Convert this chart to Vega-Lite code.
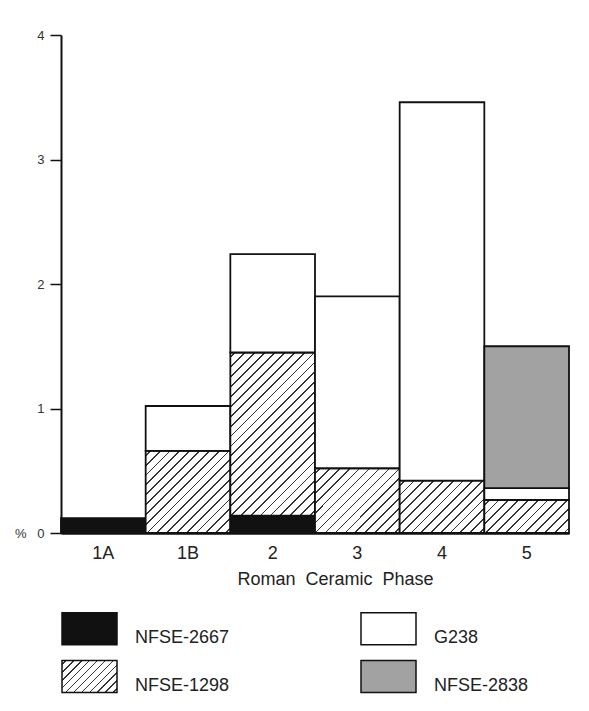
{
  "$schema": "https://vega.github.io/schema/vega-lite/v6.json",
  "autosize": "none",
  "width": 508,
  "height": 498,
  "padding": {"left": 61, "top": 35, "right": 20, "bottom": 178},
  "background": "#ffffff",
  "config": {
    "font": "Liberation Sans",
    "view": {"stroke": null}
  },
  "data": {
    "values": [
      {"phase": "1A", "series": "NFSE-2667", "layer": 1, "pct": 0.12},
      {"phase": "1B", "series": "NFSE-1298", "layer": 2, "pct": 0.66},
      {"phase": "1B", "series": "G238", "layer": 3, "pct": 0.36},
      {"phase": "2", "series": "NFSE-2667", "layer": 1, "pct": 0.14},
      {"phase": "2", "series": "NFSE-1298", "layer": 2, "pct": 1.31},
      {"phase": "2", "series": "G238", "layer": 3, "pct": 0.79},
      {"phase": "3", "series": "NFSE-1298", "layer": 2, "pct": 0.52},
      {"phase": "3", "series": "G238", "layer": 3, "pct": 1.38},
      {"phase": "4", "series": "NFSE-1298", "layer": 2, "pct": 0.42},
      {"phase": "4", "series": "G238", "layer": 3, "pct": 3.04},
      {"phase": "5", "series": "NFSE-1298", "layer": 2, "pct": 0.265},
      {"phase": "5", "series": "G238", "layer": 3, "pct": 0.095},
      {"phase": "5", "series": "NFSE-2838", "layer": 4, "pct": 1.14}
    ]
  },
  "mark": {"type": "bar", "stroke": "#111111", "strokeWidth": 1.8, "opacity": 1},
  "encoding": {
    "x": {
      "field": "phase",
      "type": "nominal",
      "sort": ["1A", "1B", "2", "3", "4", "5"],
      "scale": {"paddingInner": 0, "paddingOuter": 0},
      "axis": {
        "labelAngle": 0,
        "ticks": false,
        "domain": true,
        "domainColor": "#111111",
        "domainWidth": 2.5,
        "labelFontSize": 18,
        "labelColor": "#222222",
        "labelPadding": 11,
        "title": "Roman\u00a0 Ceramic\u00a0 Phase",
        "titleFontSize": 18,
        "titleFontWeight": "normal",
        "titleColor": "#222222",
        "titleX": 274,
        "titleY": 37
      }
    },
    "y": {
      "field": "pct",
      "type": "quantitative",
      "stack": "zero",
      "scale": {"domain": [0, 4], "nice": false},
      "axis": {
        "values": [0, 1, 2, 3, 4],
        "title": null,
        "grid": false,
        "domainColor": "#111111",
        "domainWidth": 2,
        "tickColor": "#111111",
        "tickWidth": 1.5,
        "tickSize": 11,
        "labelFontSize": 13,
        "labelColor": "#333333",
        "labelPadding": 6,
        "labelExpr": "datum.value === 0 ? '%\u00a0\u00a0\u00a00' : datum.label"
      }
    },
    "order": {"field": "layer", "type": "quantitative", "sort": "ascending"},
    "color": {
      "condition": [
        {
          "test": "datum.series === 'NFSE-1298' && datum.phase === '1B'",
          "value": {
            "gradient": "linear", "x1": 0, "y1": 0, "x2": 1.0148, "y2": 0.985,
            "stops": [
              {"offset": 0, "color": "#ffffff"},
              {"offset": 0.0240, "color": "#ffffff"}, {"offset": 0.0240, "color": "#333333"}, {"offset": 0.0348, "color": "#333333"}, {"offset": 0.0348, "color": "#ffffff"},
              {"offset": 0.0828, "color": "#ffffff"}, {"offset": 0.0828, "color": "#333333"}, {"offset": 0.0936, "color": "#333333"}, {"offset": 0.0936, "color": "#ffffff"},
              {"offset": 0.1417, "color": "#ffffff"}, {"offset": 0.1417, "color": "#333333"}, {"offset": 0.1525, "color": "#333333"}, {"offset": 0.1525, "color": "#ffffff"},
              {"offset": 0.2005, "color": "#ffffff"}, {"offset": 0.2005, "color": "#333333"}, {"offset": 0.2113, "color": "#333333"}, {"offset": 0.2113, "color": "#ffffff"},
              {"offset": 0.2593, "color": "#ffffff"}, {"offset": 0.2593, "color": "#333333"}, {"offset": 0.2701, "color": "#333333"}, {"offset": 0.2701, "color": "#ffffff"},
              {"offset": 0.3181, "color": "#ffffff"}, {"offset": 0.3181, "color": "#333333"}, {"offset": 0.3289, "color": "#333333"}, {"offset": 0.3289, "color": "#ffffff"},
              {"offset": 0.3770, "color": "#ffffff"}, {"offset": 0.3770, "color": "#333333"}, {"offset": 0.3878, "color": "#333333"}, {"offset": 0.3878, "color": "#ffffff"},
              {"offset": 0.4358, "color": "#ffffff"}, {"offset": 0.4358, "color": "#333333"}, {"offset": 0.4466, "color": "#333333"}, {"offset": 0.4466, "color": "#ffffff"},
              {"offset": 0.4946, "color": "#ffffff"}, {"offset": 0.4946, "color": "#333333"}, {"offset": 0.5054, "color": "#333333"}, {"offset": 0.5054, "color": "#ffffff"},
              {"offset": 0.5534, "color": "#ffffff"}, {"offset": 0.5534, "color": "#333333"}, {"offset": 0.5642, "color": "#333333"}, {"offset": 0.5642, "color": "#ffffff"},
              {"offset": 0.6122, "color": "#ffffff"}, {"offset": 0.6122, "color": "#333333"}, {"offset": 0.6230, "color": "#333333"}, {"offset": 0.6230, "color": "#ffffff"},
              {"offset": 0.6711, "color": "#ffffff"}, {"offset": 0.6711, "color": "#333333"}, {"offset": 0.6819, "color": "#333333"}, {"offset": 0.6819, "color": "#ffffff"},
              {"offset": 0.7299, "color": "#ffffff"}, {"offset": 0.7299, "color": "#333333"}, {"offset": 0.7407, "color": "#333333"}, {"offset": 0.7407, "color": "#ffffff"},
              {"offset": 0.7887, "color": "#ffffff"}, {"offset": 0.7887, "color": "#333333"}, {"offset": 0.7995, "color": "#333333"}, {"offset": 0.7995, "color": "#ffffff"},
              {"offset": 0.8475, "color": "#ffffff"}, {"offset": 0.8475, "color": "#333333"}, {"offset": 0.8583, "color": "#333333"}, {"offset": 0.8583, "color": "#ffffff"},
              {"offset": 0.9064, "color": "#ffffff"}, {"offset": 0.9064, "color": "#333333"}, {"offset": 0.9172, "color": "#333333"}, {"offset": 0.9172, "color": "#ffffff"},
              {"offset": 0.9652, "color": "#ffffff"}, {"offset": 0.9652, "color": "#333333"}, {"offset": 0.9760, "color": "#333333"}, {"offset": 0.9760, "color": "#ffffff"},
              {"offset": 1, "color": "#ffffff"}
            ]
          }
        },
        {
          "test": "datum.series === 'NFSE-1298' && datum.phase === '2'",
          "value": {
            "gradient": "linear", "x1": 0, "y1": 0, "x2": 0.6214, "y2": 1.1966,
            "stops": [
              {"offset": 0, "color": "#ffffff"},
              {"offset": 0.0164, "color": "#ffffff"}, {"offset": 0.0164, "color": "#333333"}, {"offset": 0.0236, "color": "#333333"}, {"offset": 0.0236, "color": "#ffffff"},
              {"offset": 0.0564, "color": "#ffffff"}, {"offset": 0.0564, "color": "#333333"}, {"offset": 0.0636, "color": "#333333"}, {"offset": 0.0636, "color": "#ffffff"},
              {"offset": 0.0964, "color": "#ffffff"}, {"offset": 0.0964, "color": "#333333"}, {"offset": 0.1036, "color": "#333333"}, {"offset": 0.1036, "color": "#ffffff"},
              {"offset": 0.1364, "color": "#ffffff"}, {"offset": 0.1364, "color": "#333333"}, {"offset": 0.1436, "color": "#333333"}, {"offset": 0.1436, "color": "#ffffff"},
              {"offset": 0.1764, "color": "#ffffff"}, {"offset": 0.1764, "color": "#333333"}, {"offset": 0.1836, "color": "#333333"}, {"offset": 0.1836, "color": "#ffffff"},
              {"offset": 0.2164, "color": "#ffffff"}, {"offset": 0.2164, "color": "#333333"}, {"offset": 0.2236, "color": "#333333"}, {"offset": 0.2236, "color": "#ffffff"},
              {"offset": 0.2564, "color": "#ffffff"}, {"offset": 0.2564, "color": "#333333"}, {"offset": 0.2636, "color": "#333333"}, {"offset": 0.2636, "color": "#ffffff"},
              {"offset": 0.2964, "color": "#ffffff"}, {"offset": 0.2964, "color": "#333333"}, {"offset": 0.3036, "color": "#333333"}, {"offset": 0.3036, "color": "#ffffff"},
              {"offset": 0.3364, "color": "#ffffff"}, {"offset": 0.3364, "color": "#333333"}, {"offset": 0.3436, "color": "#333333"}, {"offset": 0.3436, "color": "#ffffff"},
              {"offset": 0.3764, "color": "#ffffff"}, {"offset": 0.3764, "color": "#333333"}, {"offset": 0.3836, "color": "#333333"}, {"offset": 0.3836, "color": "#ffffff"},
              {"offset": 0.4164, "color": "#ffffff"}, {"offset": 0.4164, "color": "#333333"}, {"offset": 0.4236, "color": "#333333"}, {"offset": 0.4236, "color": "#ffffff"},
              {"offset": 0.4564, "color": "#ffffff"}, {"offset": 0.4564, "color": "#333333"}, {"offset": 0.4636, "color": "#333333"}, {"offset": 0.4636, "color": "#ffffff"},
              {"offset": 0.4964, "color": "#ffffff"}, {"offset": 0.4964, "color": "#333333"}, {"offset": 0.5036, "color": "#333333"}, {"offset": 0.5036, "color": "#ffffff"},
              {"offset": 0.5364, "color": "#ffffff"}, {"offset": 0.5364, "color": "#333333"}, {"offset": 0.5436, "color": "#333333"}, {"offset": 0.5436, "color": "#ffffff"},
              {"offset": 0.5764, "color": "#ffffff"}, {"offset": 0.5764, "color": "#333333"}, {"offset": 0.5836, "color": "#333333"}, {"offset": 0.5836, "color": "#ffffff"},
              {"offset": 0.6164, "color": "#ffffff"}, {"offset": 0.6164, "color": "#333333"}, {"offset": 0.6236, "color": "#333333"}, {"offset": 0.6236, "color": "#ffffff"},
              {"offset": 0.6564, "color": "#ffffff"}, {"offset": 0.6564, "color": "#333333"}, {"offset": 0.6636, "color": "#333333"}, {"offset": 0.6636, "color": "#ffffff"},
              {"offset": 0.6964, "color": "#ffffff"}, {"offset": 0.6964, "color": "#333333"}, {"offset": 0.7036, "color": "#333333"}, {"offset": 0.7036, "color": "#ffffff"},
              {"offset": 0.7364, "color": "#ffffff"}, {"offset": 0.7364, "color": "#333333"}, {"offset": 0.7436, "color": "#333333"}, {"offset": 0.7436, "color": "#ffffff"},
              {"offset": 0.7764, "color": "#ffffff"}, {"offset": 0.7764, "color": "#333333"}, {"offset": 0.7836, "color": "#333333"}, {"offset": 0.7836, "color": "#ffffff"},
              {"offset": 0.8164, "color": "#ffffff"}, {"offset": 0.8164, "color": "#333333"}, {"offset": 0.8236, "color": "#333333"}, {"offset": 0.8236, "color": "#ffffff"},
              {"offset": 0.8564, "color": "#ffffff"}, {"offset": 0.8564, "color": "#333333"}, {"offset": 0.8636, "color": "#333333"}, {"offset": 0.8636, "color": "#ffffff"},
              {"offset": 0.8964, "color": "#ffffff"}, {"offset": 0.8964, "color": "#333333"}, {"offset": 0.9036, "color": "#333333"}, {"offset": 0.9036, "color": "#ffffff"},
              {"offset": 0.9364, "color": "#ffffff"}, {"offset": 0.9364, "color": "#333333"}, {"offset": 0.9436, "color": "#333333"}, {"offset": 0.9436, "color": "#ffffff"},
              {"offset": 0.9764, "color": "#ffffff"}, {"offset": 0.9764, "color": "#333333"}, {"offset": 0.9836, "color": "#333333"}, {"offset": 0.9836, "color": "#ffffff"},
              {"offset": 1, "color": "#ffffff"}
            ]
          }
        },
        {
          "test": "datum.series === 'NFSE-1298' && datum.phase === '3'",
          "value": {
            "gradient": "linear", "x1": 0, "y1": 0, "x2": 1.114, "y2": 0.851,
            "stops": [
              {"offset": 0, "color": "#ffffff"},
              {"offset": 0.0273, "color": "#ffffff"}, {"offset": 0.0273, "color": "#333333"}, {"offset": 0.0393, "color": "#333333"}, {"offset": 0.0393, "color": "#ffffff"},
              {"offset": 0.0940, "color": "#ffffff"}, {"offset": 0.0940, "color": "#333333"}, {"offset": 0.1060, "color": "#333333"}, {"offset": 0.1060, "color": "#ffffff"},
              {"offset": 0.1607, "color": "#ffffff"}, {"offset": 0.1607, "color": "#333333"}, {"offset": 0.1727, "color": "#333333"}, {"offset": 0.1727, "color": "#ffffff"},
              {"offset": 0.2273, "color": "#ffffff"}, {"offset": 0.2273, "color": "#333333"}, {"offset": 0.2393, "color": "#333333"}, {"offset": 0.2393, "color": "#ffffff"},
              {"offset": 0.2940, "color": "#ffffff"}, {"offset": 0.2940, "color": "#333333"}, {"offset": 0.3060, "color": "#333333"}, {"offset": 0.3060, "color": "#ffffff"},
              {"offset": 0.3607, "color": "#ffffff"}, {"offset": 0.3607, "color": "#333333"}, {"offset": 0.3727, "color": "#333333"}, {"offset": 0.3727, "color": "#ffffff"},
              {"offset": 0.4273, "color": "#ffffff"}, {"offset": 0.4273, "color": "#333333"}, {"offset": 0.4393, "color": "#333333"}, {"offset": 0.4393, "color": "#ffffff"},
              {"offset": 0.4940, "color": "#ffffff"}, {"offset": 0.4940, "color": "#333333"}, {"offset": 0.5060, "color": "#333333"}, {"offset": 0.5060, "color": "#ffffff"},
              {"offset": 0.5607, "color": "#ffffff"}, {"offset": 0.5607, "color": "#333333"}, {"offset": 0.5727, "color": "#333333"}, {"offset": 0.5727, "color": "#ffffff"},
              {"offset": 0.6273, "color": "#ffffff"}, {"offset": 0.6273, "color": "#333333"}, {"offset": 0.6393, "color": "#333333"}, {"offset": 0.6393, "color": "#ffffff"},
              {"offset": 0.6940, "color": "#ffffff"}, {"offset": 0.6940, "color": "#333333"}, {"offset": 0.7060, "color": "#333333"}, {"offset": 0.7060, "color": "#ffffff"},
              {"offset": 0.7607, "color": "#ffffff"}, {"offset": 0.7607, "color": "#333333"}, {"offset": 0.7727, "color": "#333333"}, {"offset": 0.7727, "color": "#ffffff"},
              {"offset": 0.8273, "color": "#ffffff"}, {"offset": 0.8273, "color": "#333333"}, {"offset": 0.8393, "color": "#333333"}, {"offset": 0.8393, "color": "#ffffff"},
              {"offset": 0.8940, "color": "#ffffff"}, {"offset": 0.8940, "color": "#333333"}, {"offset": 0.9060, "color": "#333333"}, {"offset": 0.9060, "color": "#ffffff"},
              {"offset": 0.9607, "color": "#ffffff"}, {"offset": 0.9607, "color": "#333333"}, {"offset": 0.9727, "color": "#333333"}, {"offset": 0.9727, "color": "#ffffff"},
              {"offset": 1, "color": "#ffffff"}
            ]
          }
        },
        {
          "test": "datum.series === 'NFSE-1298' && datum.phase === '4'",
          "value": {
            "gradient": "linear", "x1": 0, "y1": 0, "x2": 1.171, "y2": 0.723,
            "stops": [
              {"offset": 0, "color": "#ffffff"},
              {"offset": 0.0291, "color": "#ffffff"}, {"offset": 0.0291, "color": "#333333"}, {"offset": 0.0423, "color": "#333333"}, {"offset": 0.0423, "color": "#ffffff"},
              {"offset": 0.1005, "color": "#ffffff"}, {"offset": 0.1005, "color": "#333333"}, {"offset": 0.1137, "color": "#333333"}, {"offset": 0.1137, "color": "#ffffff"},
              {"offset": 0.1720, "color": "#ffffff"}, {"offset": 0.1720, "color": "#333333"}, {"offset": 0.1852, "color": "#333333"}, {"offset": 0.1852, "color": "#ffffff"},
              {"offset": 0.2434, "color": "#ffffff"}, {"offset": 0.2434, "color": "#333333"}, {"offset": 0.2566, "color": "#333333"}, {"offset": 0.2566, "color": "#ffffff"},
              {"offset": 0.3148, "color": "#ffffff"}, {"offset": 0.3148, "color": "#333333"}, {"offset": 0.3280, "color": "#333333"}, {"offset": 0.3280, "color": "#ffffff"},
              {"offset": 0.3863, "color": "#ffffff"}, {"offset": 0.3863, "color": "#333333"}, {"offset": 0.3995, "color": "#333333"}, {"offset": 0.3995, "color": "#ffffff"},
              {"offset": 0.4577, "color": "#ffffff"}, {"offset": 0.4577, "color": "#333333"}, {"offset": 0.4709, "color": "#333333"}, {"offset": 0.4709, "color": "#ffffff"},
              {"offset": 0.5291, "color": "#ffffff"}, {"offset": 0.5291, "color": "#333333"}, {"offset": 0.5423, "color": "#333333"}, {"offset": 0.5423, "color": "#ffffff"},
              {"offset": 0.6005, "color": "#ffffff"}, {"offset": 0.6005, "color": "#333333"}, {"offset": 0.6137, "color": "#333333"}, {"offset": 0.6137, "color": "#ffffff"},
              {"offset": 0.6720, "color": "#ffffff"}, {"offset": 0.6720, "color": "#333333"}, {"offset": 0.6852, "color": "#333333"}, {"offset": 0.6852, "color": "#ffffff"},
              {"offset": 0.7434, "color": "#ffffff"}, {"offset": 0.7434, "color": "#333333"}, {"offset": 0.7566, "color": "#333333"}, {"offset": 0.7566, "color": "#ffffff"},
              {"offset": 0.8148, "color": "#ffffff"}, {"offset": 0.8148, "color": "#333333"}, {"offset": 0.8280, "color": "#333333"}, {"offset": 0.8280, "color": "#ffffff"},
              {"offset": 0.8863, "color": "#ffffff"}, {"offset": 0.8863, "color": "#333333"}, {"offset": 0.8995, "color": "#333333"}, {"offset": 0.8995, "color": "#ffffff"},
              {"offset": 0.9577, "color": "#ffffff"}, {"offset": 0.9577, "color": "#333333"}, {"offset": 0.9709, "color": "#333333"}, {"offset": 0.9709, "color": "#ffffff"},
              {"offset": 1, "color": "#ffffff"}
            ]
          }
        },
        {
          "test": "datum.series === 'NFSE-1298' && datum.phase === '5'",
          "value": {
            "gradient": "linear", "x1": 0, "y1": 0, "x2": 1.2065, "y2": 0.470,
            "stops": [
              {"offset": 0, "color": "#ffffff"},
              {"offset": 0.0341, "color": "#ffffff"}, {"offset": 0.0341, "color": "#333333"}, {"offset": 0.0493, "color": "#333333"}, {"offset": 0.0493, "color": "#ffffff"},
              {"offset": 0.1174, "color": "#ffffff"}, {"offset": 0.1174, "color": "#333333"}, {"offset": 0.1326, "color": "#333333"}, {"offset": 0.1326, "color": "#ffffff"},
              {"offset": 0.2007, "color": "#ffffff"}, {"offset": 0.2007, "color": "#333333"}, {"offset": 0.2159, "color": "#333333"}, {"offset": 0.2159, "color": "#ffffff"},
              {"offset": 0.2841, "color": "#ffffff"}, {"offset": 0.2841, "color": "#333333"}, {"offset": 0.2993, "color": "#333333"}, {"offset": 0.2993, "color": "#ffffff"},
              {"offset": 0.3674, "color": "#ffffff"}, {"offset": 0.3674, "color": "#333333"}, {"offset": 0.3826, "color": "#333333"}, {"offset": 0.3826, "color": "#ffffff"},
              {"offset": 0.4507, "color": "#ffffff"}, {"offset": 0.4507, "color": "#333333"}, {"offset": 0.4659, "color": "#333333"}, {"offset": 0.4659, "color": "#ffffff"},
              {"offset": 0.5341, "color": "#ffffff"}, {"offset": 0.5341, "color": "#333333"}, {"offset": 0.5493, "color": "#333333"}, {"offset": 0.5493, "color": "#ffffff"},
              {"offset": 0.6174, "color": "#ffffff"}, {"offset": 0.6174, "color": "#333333"}, {"offset": 0.6326, "color": "#333333"}, {"offset": 0.6326, "color": "#ffffff"},
              {"offset": 0.7007, "color": "#ffffff"}, {"offset": 0.7007, "color": "#333333"}, {"offset": 0.7159, "color": "#333333"}, {"offset": 0.7159, "color": "#ffffff"},
              {"offset": 0.7841, "color": "#ffffff"}, {"offset": 0.7841, "color": "#333333"}, {"offset": 0.7993, "color": "#333333"}, {"offset": 0.7993, "color": "#ffffff"},
              {"offset": 0.8674, "color": "#ffffff"}, {"offset": 0.8674, "color": "#333333"}, {"offset": 0.8826, "color": "#333333"}, {"offset": 0.8826, "color": "#ffffff"},
              {"offset": 0.9507, "color": "#ffffff"}, {"offset": 0.9507, "color": "#333333"}, {"offset": 0.9659, "color": "#333333"}, {"offset": 0.9659, "color": "#ffffff"},
              {"offset": 1, "color": "#ffffff"}
            ]
          }
        }
      ],
      "field": "series",
      "type": "nominal",
      "scale": {
        "domain": ["NFSE-2667", "NFSE-1298", "G238", "NFSE-2838"],
        "range": [
          "#111111",
          {"expr": "{gradient: 'linear', x1: 0, y1: 0, x2: 1.1818, y2: 0.6876, stops: [{offset: 0, color: '#ffffff'}, {offset: 0.0363, color: '#ffffff'}, {offset: 0.0363, color: '#333333'}, {offset: 0.0547, color: '#333333'}, {offset: 0.0547, color: '#ffffff'}, {offset: 0.1272, color: '#ffffff'}, {offset: 0.1272, color: '#333333'}, {offset: 0.1456, color: '#333333'}, {offset: 0.1456, color: '#ffffff'}, {offset: 0.2181, color: '#ffffff'}, {offset: 0.2181, color: '#333333'}, {offset: 0.2365, color: '#333333'}, {offset: 0.2365, color: '#ffffff'}, {offset: 0.309, color: '#ffffff'}, {offset: 0.309, color: '#333333'}, {offset: 0.3274, color: '#333333'}, {offset: 0.3274, color: '#ffffff'}, {offset: 0.3999, color: '#ffffff'}, {offset: 0.3999, color: '#333333'}, {offset: 0.4183, color: '#333333'}, {offset: 0.4183, color: '#ffffff'}, {offset: 0.4908, color: '#ffffff'}, {offset: 0.4908, color: '#333333'}, {offset: 0.5092, color: '#333333'}, {offset: 0.5092, color: '#ffffff'}, {offset: 0.5817, color: '#ffffff'}, {offset: 0.5817, color: '#333333'}, {offset: 0.6001, color: '#333333'}, {offset: 0.6001, color: '#ffffff'}, {offset: 0.6726, color: '#ffffff'}, {offset: 0.6726, color: '#333333'}, {offset: 0.691, color: '#333333'}, {offset: 0.691, color: '#ffffff'}, {offset: 0.7635, color: '#ffffff'}, {offset: 0.7635, color: '#333333'}, {offset: 0.7819, color: '#333333'}, {offset: 0.7819, color: '#ffffff'}, {offset: 0.8544, color: '#ffffff'}, {offset: 0.8544, color: '#333333'}, {offset: 0.8728, color: '#333333'}, {offset: 0.8728, color: '#ffffff'}, {offset: 0.9453, color: '#ffffff'}, {offset: 0.9453, color: '#333333'}, {offset: 0.9637, color: '#333333'}, {offset: 0.9637, color: '#ffffff'}, {offset: 1, color: '#ffffff'}]}"},
          "#ffffff",
          "#a2a2a2"
        ]
      },
      "legend": {
        "orient": "none",
        "legendX": 0,
        "legendY": 565,
        "title": null,
        "direction": "horizontal",
        "columns": 2,
        "values": ["NFSE-2667", "G238", "NFSE-1298", "NFSE-2838"],
        "symbolType": "M-1,-0.582H1V0.582H-1Z",
        "symbolSize": 3025,
        "symbolStrokeColor": "#111111",
        "symbolStrokeWidth": 1.5,
        "symbolOpacity": 1,
        "labelFontSize": 18,
        "labelColor": "#222222",
        "labelOffset": 17,
        "labelLimit": 300,
        "labelBaseline": "top",
        "columnPadding": 128,
        "rowPadding": -1,
        "gridAlign": "each",
        "encode": {
          "symbols": {
            "update": {
              "stroke": {"value": "#111111"},
              "strokeWidth": {"value": 1.5},
              "opacity": {"value": 1},
              "fillOpacity": {"value": 1},
              "fill": {"scale": "color", "field": "value"}
            }
          }
        }
      }
    }
  }
}
